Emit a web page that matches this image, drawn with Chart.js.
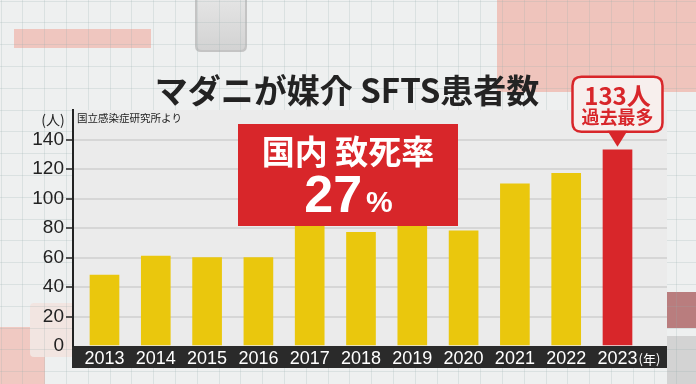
<!DOCTYPE html>
<html><head><meta charset="utf-8">
<script src="https://cdn.jsdelivr.net/npm/chart.js@4/dist/chart.umd.min.js"></script>
<style>
html,body{margin:0;padding:0;background:#eef0f0;overflow:hidden}
#wrap{position:relative;width:696px;height:384px}
canvas{display:block}
</style></head>
<body><div id="wrap"><canvas id="c" width="696" height="384"></canvas></div>
<script>
// ---- data ----
const years = [2013, 2014, 2015, 2016, 2017, 2018, 2019, 2020, 2021, 2022, 2023];
const cases = [48, 61, 60, 60, 90, 77, 101, 78, 110, 117, 133];
const yTickValues = [0, 20, 40, 60, 80, 100, 120, 140];
const titleText = 'マダニが媒介 SFTS患者数';
const unitLabel = '(人)';
const sourceLabel = '国立感染症研究所より';
const yearUnit = '(年)';
const boxTitle = '国内 致死率';
const boxValue = '27';
const boxPct = '%';
const calloutValue = '133人';
const calloutNote = '過去最多';

// ---- styles ----
const YELLOW = '#eac70d';
const RED = '#d8262a';
const CJK = '"Noto Sans CJK JP", "Noto Sans", sans-serif';
const NUM = '"Liberation Sans", Arial, sans-serif';
const lastIdx = years.length - 1;

function rrect(ctx, x, y, w, h, r) {
  ctx.beginPath();
  ctx.moveTo(x + r, y);
  ctx.lineTo(x + w - r, y); ctx.quadraticCurveTo(x + w, y, x + w, y + r);
  ctx.lineTo(x + w, y + h - r); ctx.quadraticCurveTo(x + w, y + h, x + w - r, y + h);
  ctx.lineTo(x + r, y + h); ctx.quadraticCurveTo(x, y + h, x, y + h - r);
  ctx.lineTo(x, y + r); ctx.quadraticCurveTo(x, y, x + r, y);
  ctx.closePath();
}

const bgPlugin = {
  id: 'bg',
  beforeDraw(chart) {
    const ctx = chart.ctx, a = chart.chartArea;
    ctx.save();
    ctx.fillStyle = '#eef0f0';
    ctx.fillRect(0, 0, chart.width, chart.height);
    // decorative blocks
    ctx.fillStyle = '#efc6bf'; ctx.fillRect(14, 29, 137, 19);
    ctx.fillStyle = '#efc4bc'; ctx.fillRect(497, 0, 199, 92);
    ctx.fillStyle = '#f0c9c2'; ctx.fillRect(0, 327, 45, 57);
    ctx.fillStyle = '#f2e5e1'; rrect(ctx, 30, 303, 50, 54, 4); ctx.fill();
    ctx.fillStyle = '#b97d7e'; ctx.fillRect(667, 292, 29, 36);
    ctx.fillStyle = '#d3d3d3'; ctx.fillRect(667, 336, 29, 48);
    // grey rounded tab
    const g = ctx.createLinearGradient(0, 0, 0, 52);
    g.addColorStop(0, '#e4e4e4'); g.addColorStop(1, '#d2d2d2');
    ctx.fillStyle = '#c4c4c4'; rrect(ctx, 195, -6, 52, 58, 6); ctx.fill();
    ctx.fillStyle = g; rrect(ctx, 197, -6, 48, 56, 5); ctx.fill();
    // page grid
    ctx.strokeStyle = 'rgba(150,175,175,0.22)';
    ctx.lineWidth = 1;
    ctx.beginPath();
    for (let x = 0.5; x < chart.width; x += 21.8) { ctx.moveTo(Math.round(x) + 0.5, 0); ctx.lineTo(Math.round(x) + 0.5, chart.height); }
    for (let y = 0.5; y < chart.height; y += 21.8) { ctx.moveTo(0, Math.round(y) + 0.5); ctx.lineTo(chart.width, Math.round(y) + 0.5); }
    ctx.stroke();
    // plot background
    ctx.fillStyle = '#ebebeb';
    ctx.fillRect(a.left, a.top, a.right - a.left, a.bottom - a.top);
    // dark category band
    ctx.fillStyle = '#2a2a2a';
    ctx.fillRect(a.left - 1, a.bottom, a.right - a.left + 1, 22);
    ctx.restore();
  }
};

const overlayPlugin = {
  id: 'overlay',
  afterDraw(chart) {
    const ctx = chart.ctx, a = chart.chartArea;
    const xs = chart.scales.x, ys = chart.scales.y;
    ctx.save();
    // title
    ctx.fillStyle = '#232323';
    ctx.textAlign = 'center'; ctx.textBaseline = 'middle';
    ctx.font = 'bold 33px ' + CJK;
    ctx.fillText(titleText, 347, 90);
    // unit & source
    ctx.font = '14px ' + CJK;
    ctx.fillText(unitLabel, 53, 120);
    ctx.textAlign = 'left';
    ctx.font = '10.5px ' + CJK;
    ctx.fillText(sourceLabel, 77, 118);
    // year unit
    ctx.fillStyle = '#ffffff';
    ctx.font = '18px ' + NUM;
    const lastX = xs.getPixelForValue(years[lastIdx]);
    const lw = ctx.measureText(String(years[lastIdx])).width;
    ctx.font = '13px ' + CJK;
    ctx.fillText(yearUnit, lastX + lw / 2 + 1, 359);
    // red info box
    ctx.fillStyle = RED;
    ctx.fillRect(238, 124, 220, 102);
    ctx.fillStyle = '#ffffff';
    ctx.textAlign = 'center';
    ctx.font = 'bold 33px ' + CJK;
    ctx.fillText(boxTitle, 348, 151);
    ctx.textBaseline = 'alphabetic';
    ctx.font = 'bold 52px ' + NUM;
    const w1 = ctx.measureText(boxValue).width;
    ctx.font = 'bold 30px ' + NUM;
    const w2 = ctx.measureText(boxPct).width;
    const gap = 4;
    const start = 348.5 - (w1 + gap + w2) / 2;
    ctx.textAlign = 'left';
    ctx.font = 'bold 52px ' + NUM;
    ctx.fillText(boxValue, start, 212);
    ctx.font = 'bold 30px ' + NUM;
    ctx.fillText(boxPct, start + w1 + gap, 212);
    // callout over last bar
    const tipY = ys.getPixelForValue(cases[lastIdx]) - 3;
    const bw = 90, bh = 55;
    const bx = lastX - bw / 2, by = tipY - 15 - bh;
    ctx.fillStyle = '#f7efed';
    rrect(ctx, bx, by, bw, bh, 9);
    ctx.fill();
    ctx.strokeStyle = RED; ctx.lineWidth = 2.5; ctx.stroke();
    ctx.fillStyle = RED;
    ctx.beginPath();
    ctx.moveTo(lastX - 10, by + bh - 1);
    ctx.lineTo(lastX + 10, by + bh - 1);
    ctx.lineTo(lastX, tipY);
    ctx.closePath(); ctx.fill();
    ctx.textAlign = 'center'; ctx.textBaseline = 'middle';
    ctx.font = 'bold 24px ' + CJK;
    ctx.fillText(calloutValue, lastX, by + 19);
    ctx.font = 'bold 18px ' + CJK;
    ctx.fillText(calloutNote, lastX, by + 40);
    ctx.restore();
  }
};

new Chart(document.getElementById('c'), {
  type: 'bar',
  data: {
    datasets: [{
      data: years.map((y, i) => ({ x: y, y: cases[i] })),
      backgroundColor: years.map((y, i) => i === lastIdx ? RED : YELLOW),
      borderWidth: 0,
      barThickness: 29
    }]
  },
  options: {
    responsive: false,
    animation: false,
    devicePixelRatio: 1,
    layout: { padding: { left: 0, right: 29, top: 110, bottom: 0 } },
    plugins: { legend: { display: false }, tooltip: { enabled: false } },
    scales: {
      x: {
        type: 'linear',
        offset: false,
        min: 2012.386,
        max: 2023.965,
        afterBuildTicks: axis => { axis.ticks = years.map(v => ({ value: v })); },
        afterFit: s => { s.height = 38; },
        grid: { display: false, drawTicks: false, offset: false },
        border: { display: false },
        ticks: {
          autoSkip: false, maxRotation: 0, minRotation: 0,
          color: '#ffffff', padding: 2,
          font: { family: NUM, size: 18 },
          callback: v => String(v)
        }
      },
      y: {
        min: 0,
        max: 160,
        afterBuildTicks: axis => { axis.ticks = yTickValues.map(v => ({ value: v })); },
        afterFit: s => { s.width = 73; },
        grid: {
          color: c => (c.tick && c.tick.value === 0) ? 'rgba(0,0,0,0)' : '#d6d6d6',
          lineWidth: 2,
          tickLength: 7,
          tickColor: c => (c.tick && c.tick.value === 0) ? 'rgba(0,0,0,0)' : '#222222',
          tickWidth: 1.5
        },
        border: { color: '#222222', width: 2 },
        ticks: { color: '#222222', padding: 2, font: { family: NUM, size: 19 } }
      }
    }
  },
  plugins: [bgPlugin, overlayPlugin]
});
</script>
</body></html>
